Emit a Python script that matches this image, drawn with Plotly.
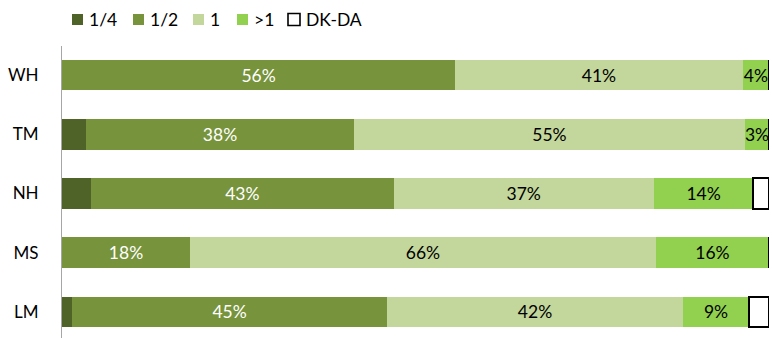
import plotly.graph_objects as go

# Share of responses per site, in percent
sites = ["WH", "TM", "NH", "MS", "LM"]
quarter = [0.0, 3.4, 4.1, 0.0, 1.4]
half = [55.6, 37.9, 42.8, 18.1, 44.6]
one = [40.7, 55.3, 36.8, 65.9, 41.8]
more_than_one = [3.7, 3.4, 14.1, 16.0, 9.4]
dk_da = [0.0, 0.0, 2.2, 0.0, 2.8]

series_names = ["1/4", "1/2", "1", ">1", "DK-DA"]
series_values = [quarter, half, one, more_than_one, dk_da]
fills = ["#4F6228", "#77933C", "#C3D69B", "#92D050", "#FFFFFF"]
label_colors = [None, "#FFFFFF", "#000000", "#000000", None]

FONT = "Lato, Carlito, Calibri, sans-serif"

# Canvas geometry (pixels)
W, H = 772, 338
M_L, M_R, M_T, M_B = 62, 3, 46, 0
PLOT_W = W - M_L - M_R
PLOT_H = H - M_T - M_B

fig = go.Figure()
for name, vals, fill, lc in zip(series_names, series_values, fills, label_colors):
    labelled = lc is not None
    fig.add_trace(go.Bar(
        name=name,
        y=sites,
        x=vals,
        orientation="h",
        width=0.515,
        marker=dict(
            color=fill,
            line=dict(color="#000000", width=2) if name == "DK-DA" else dict(width=0),
        ),
        texttemplate=[("%{x:.0f}%" if (labelled and v > 0) else "") for v in vals],
        textposition="inside",
        insidetextanchor="middle",
        textangle=0,
        textfont=dict(family=FONT, size=17.5, color=lc if lc else "#000000"),
        hoverinfo="skip",
        showlegend=False,
    ))

# Legend row across the top: swatch + caption per series
legend_left_px = [72, 133, 193, 237, 288]
legend_mid_px = 19.5
swatch_px = 11
text_gap_px = 5


def px_to_paper_x(px):
    return (px - M_L) / PLOT_W


def px_to_paper_y(py):
    return (H - M_B - py) / PLOT_H


for name, fill, left in zip(series_names, fills, legend_left_px):
    is_box = name == "DK-DA"
    size = swatch_px + (1 if is_box else 0)
    fig.add_shape(
        type="rect",
        xref="paper", yref="paper",
        x0=px_to_paper_x(left), x1=px_to_paper_x(left + size),
        y0=px_to_paper_y(legend_mid_px + size / 2),
        y1=px_to_paper_y(legend_mid_px - size / 2),
        fillcolor=fill,
        line=dict(color="#000000", width=1.6) if is_box else dict(width=0),
        layer="above",
    )
    fig.add_annotation(
        xref="paper", yref="paper",
        x=px_to_paper_x(left + size + text_gap_px),
        y=px_to_paper_y(legend_mid_px),
        xanchor="left", yanchor="middle",
        text=name.replace(">", "&gt;"),
        showarrow=False,
        font=dict(family=FONT, size=17.5, color="#000000"),
        borderpad=0,
    )

fig.update_layout(
    barmode="stack",
    width=W,
    height=H,
    margin=dict(l=M_L, r=M_R, t=M_T, b=M_B, autoexpand=False),
    paper_bgcolor="#FFFFFF",
    plot_bgcolor="#FFFFFF",
    font=dict(family=FONT, size=16, color="#000000"),
    uniformtext=dict(mode="show", minsize=17),
    showlegend=False,
    xaxis=dict(
        range=[0, 100],
        visible=False,
        fixedrange=True,
    ),
    yaxis=dict(
        type="category",
        categoryorder="array",
        categoryarray=sites,
        range=[4.44, -0.49],
        showline=True,
        linecolor="#A6A6A6",
        linewidth=1,
        showgrid=False,
        ticks="",
        ticklabelstandoff=19,
        tickfont=dict(family=FONT, size=17, color="#000000"),
        zeroline=False,
    ),
)

fig.write_html("out.html")
